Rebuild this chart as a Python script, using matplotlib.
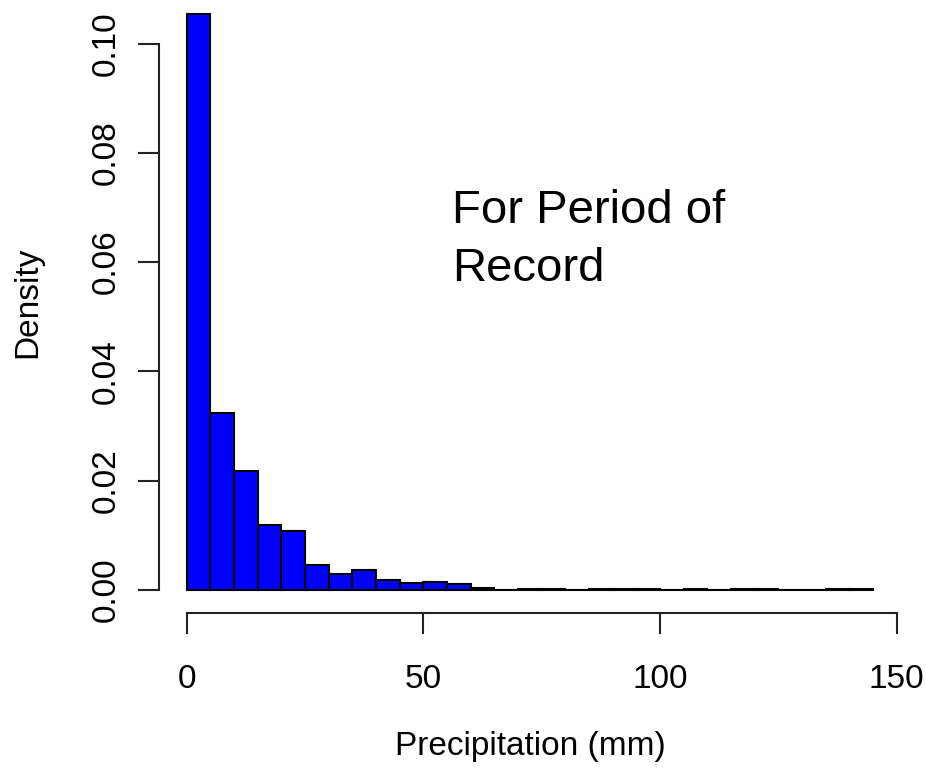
import numpy as np
import matplotlib
matplotlib.use("Agg")
import matplotlib.pyplot as plt

plt.rcParams['font.family'] = ['Liberation Sans', 'DejaVu Sans']

# histogram bins (mm), 5 mm wide, and density
bin_left = [0, 5, 10, 15, 20, 25, 30, 35, 40, 45, 50, 55, 60, 65, 70,
            75, 80, 85, 90, 95, 100, 105, 110, 115, 120, 125, 130, 135, 140]
density = [0.1054, 0.0324, 0.0217, 0.0119, 0.0108, 0.0046, 0.0029, 0.0036,
           0.0018, 0.0013, 0.0014, 0.0011, 0.0003, 0.0, 0.0001,
           0.0002, 0.0, 0.0001, 0.0001, 0.0002, 0.0, 0.0001, 0.0,
           0.0001, 0.0001, 0.0, 0.0, 0.0001, 0.0001]
bin_width = 5

x_ticks = [0, 50, 100, 150]
y_ticks = [0.00, 0.02, 0.04, 0.06, 0.08, 0.10]
y_tick_labels = ["0.00", "0.02", "0.04", "0.06", "0.08", "0.10"]

fig = plt.figure(figsize=(9.26, 7.72), dpi=100)
ax = fig.add_axes([0.1719, 0.2060, 0.8005, 0.8057])

ax.bar(bin_left, density, width=bin_width, align='edge',
       color='#0000ff', edgecolor='black', linewidth=1.5)

ax.set_xlim(-5.8, 150.8)
ax.set_ylim(-0.004216, 0.109616)

# R style detached axes
ax.spines['top'].set_visible(False)
ax.spines['right'].set_visible(False)
ax.spines['left'].set_bounds(0, 0.10)
ax.spines['bottom'].set_bounds(0, 150)
for s in ['left', 'bottom']:
    ax.spines[s].set_linewidth(1.5)
    ax.spines[s].set_color('#222222')

ax.set_xticks(x_ticks)
ax.set_yticks(y_ticks)
ax.set_yticklabels(y_tick_labels)
ax.tick_params(axis='both', length=15, width=1.5, color='#222222', labelsize=24)
ax.tick_params(axis='x', pad=22)
ax.tick_params(axis='y', pad=12, labelrotation=90)
for lab in ax.get_yticklabels():
    lab.set_va('center')

fig.text(530 / 926, 1 - 747 / 772, "Precipitation (mm)", ha='center', va='center', fontsize=24)
fig.text(28 / 926, 1 - 302 / 772, "Density", ha='center', va='center', fontsize=24, rotation=90)

ax.text(56, 0.0672, "For Period of", fontsize=34, ha='left', va='baseline')
ax.text(56, 0.0565, "Record", fontsize=34, ha='left', va='baseline')

fig.savefig("out.png", dpi=100)
